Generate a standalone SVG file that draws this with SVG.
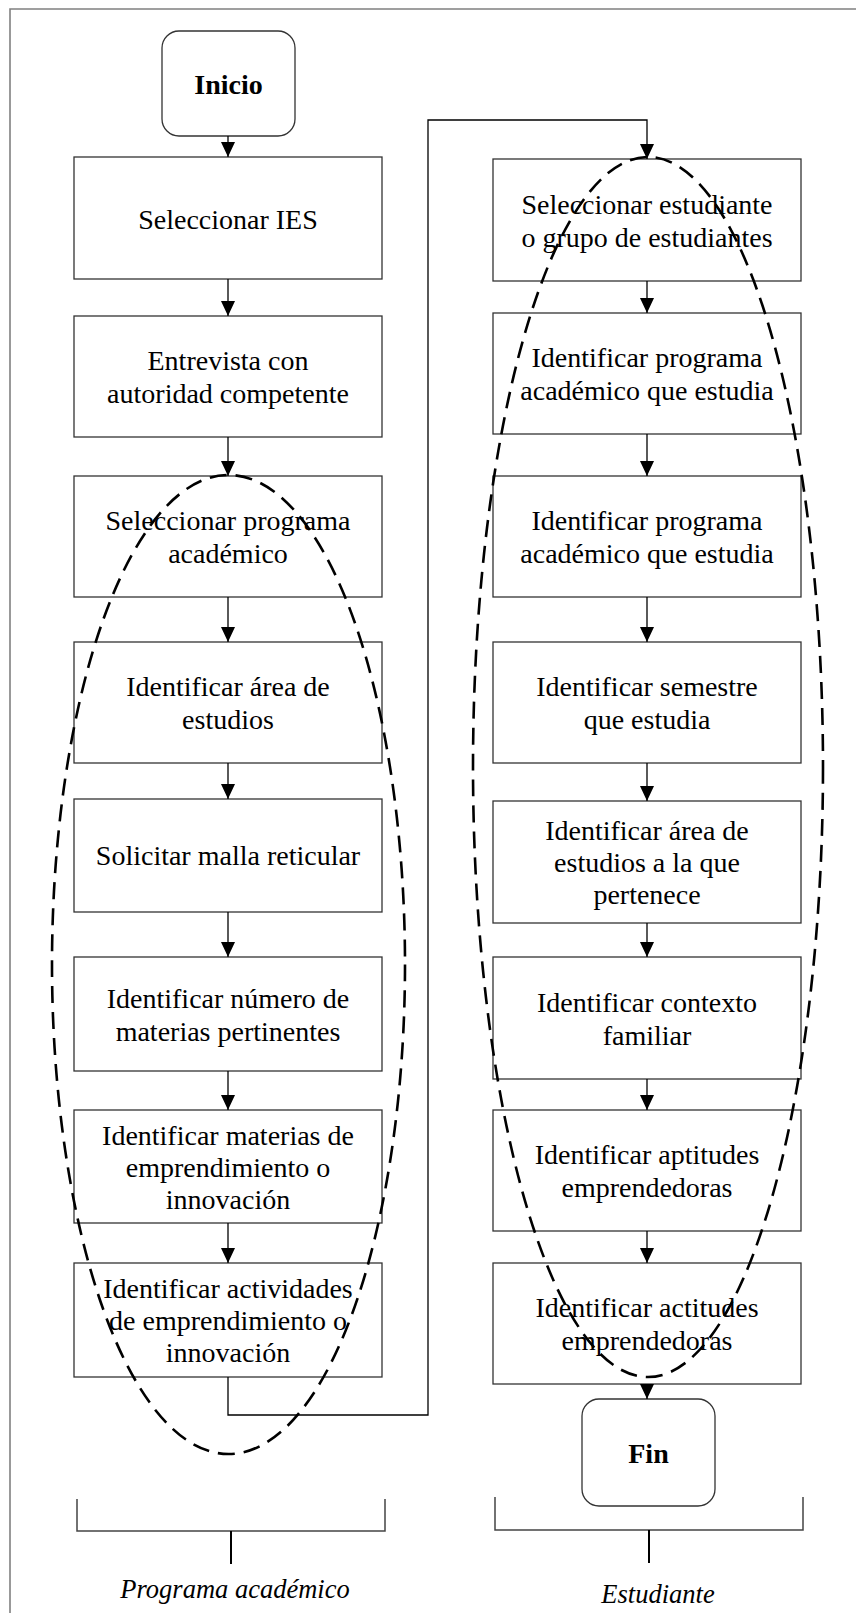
<svg xmlns="http://www.w3.org/2000/svg" width="856" height="1613" viewBox="0 0 856 1613">
<style>
.box{fill:#fff;stroke:#333;stroke-width:1.3}
.term{fill:#fff;stroke:#333;stroke-width:1.3}
.t{font-family:"Liberation Serif","Times New Roman",serif;font-size:28px;fill:#000;text-anchor:middle}
.b{font-weight:bold}
.i{font-style:italic;font-size:26.5px}
.conn{fill:none;stroke:#000;stroke-width:1.3}
.ell{fill:none;stroke:#000;stroke-width:2.6;stroke-dasharray:17 9}
.brk{fill:none;stroke:#444;stroke-width:1.5}
.stem{fill:none;stroke:#000;stroke-width:2}
</style>
<defs>
<marker id="arr" viewBox="0 0 15 14" refX="15" refY="7" markerWidth="15" markerHeight="14" markerUnits="userSpaceOnUse" orient="auto">
<path d="M0,0 L15,7 L0,14 z" fill="#000"/>
</marker>
</defs>
<path d="M10,1613 V9 H856" fill="none" stroke="#808080" stroke-width="1.6"/>

<g id="n-inicio"><rect class="term" x="162" y="31" width="133" height="105" rx="17"/><text class="t b" x="228.5" y="94">Inicio</text></g>
<g id="n-l1"><rect class="box" x="74" y="157" width="308" height="122"/><text class="t" x="228" y="229">Seleccionar IES</text></g>
<g id="n-l2"><rect class="box" x="74" y="316" width="308" height="121"/><text class="t" x="228" y="370">Entrevista con</text><text class="t" x="228" y="403">autoridad competente</text></g>
<g id="n-l3"><rect class="box" x="74" y="476" width="308" height="121"/><text class="t" x="228" y="530">Seleccionar programa</text><text class="t" x="228" y="563">académico</text></g>
<g id="n-l4"><rect class="box" x="74" y="642" width="308" height="121"/><text class="t" x="228" y="696">Identificar área de</text><text class="t" x="228" y="729">estudios</text></g>
<g id="n-l5"><rect class="box" x="74" y="799" width="308" height="113"/><text class="t" x="228" y="865">Solicitar malla reticular</text></g>
<g id="n-l6"><rect class="box" x="74" y="957" width="308" height="114"/><text class="t" x="228" y="1007.5">Identificar número de</text><text class="t" x="228" y="1040.5">materias pertinentes</text></g>
<g id="n-l7"><rect class="box" x="74" y="1110" width="308" height="113"/><text class="t" x="228" y="1145">Identificar materias de</text><text class="t" x="228" y="1177">emprendimiento o</text><text class="t" x="228" y="1208.5">innovación</text></g>
<g id="n-l8"><rect class="box" x="74" y="1263" width="308" height="114"/><text class="t" x="228" y="1298">Identificar actividades</text><text class="t" x="228" y="1330">de emprendimiento o</text><text class="t" x="228" y="1362">innovación</text></g>

<g id="n-r1"><rect class="box" x="493" y="159" width="308" height="122"/><text class="t" x="647" y="213.5">Seleccionar estudiante</text><text class="t" x="647" y="246.5">o grupo de estudiantes</text></g>
<g id="n-r2"><rect class="box" x="493" y="313" width="308" height="121"/><text class="t" x="647" y="367">Identificar programa</text><text class="t" x="647" y="400">académico que estudia</text></g>
<g id="n-r3"><rect class="box" x="493" y="476" width="308" height="121"/><text class="t" x="647" y="530">Identificar programa</text><text class="t" x="647" y="563">académico que estudia</text></g>
<g id="n-r4"><rect class="box" x="493" y="642" width="308" height="121"/><text class="t" x="647" y="696">Identificar semestre</text><text class="t" x="647" y="729">que estudia</text></g>
<g id="n-r5"><rect class="box" x="493" y="801" width="308" height="122"/><text class="t" x="647" y="840">Identificar área de</text><text class="t" x="647" y="872">estudios a la que</text><text class="t" x="647" y="904">pertenece</text></g>
<g id="n-r6"><rect class="box" x="493" y="957" width="308" height="122"/><text class="t" x="647" y="1011.5">Identificar contexto</text><text class="t" x="647" y="1044.5">familiar</text></g>
<g id="n-r7"><rect class="box" x="493" y="1110" width="308" height="121"/><text class="t" x="647" y="1164">Identificar aptitudes</text><text class="t" x="647" y="1197">emprendedoras</text></g>
<g id="n-r8"><rect class="box" x="493" y="1263" width="308" height="121"/><text class="t" x="647" y="1317">Identificar actitudes</text><text class="t" x="647" y="1350">emprendedoras</text></g>
<g id="n-fin"><rect class="term" x="582" y="1399" width="133" height="107" rx="17"/><text class="t b" x="648.5" y="1463">Fin</text></g>

<g id="connectors">
<path class="conn" d="M228,136 V157" marker-end="url(#arr)"/>
<path class="conn" d="M228,279 V316" marker-end="url(#arr)"/>
<path class="conn" d="M228,437 V476" marker-end="url(#arr)"/>
<path class="conn" d="M228,597 V642" marker-end="url(#arr)"/>
<path class="conn" d="M228,763 V799" marker-end="url(#arr)"/>
<path class="conn" d="M228,912 V957" marker-end="url(#arr)"/>
<path class="conn" d="M228,1071 V1110" marker-end="url(#arr)"/>
<path class="conn" d="M228,1223 V1263" marker-end="url(#arr)"/>
<path class="conn" d="M228,1377 V1415 H428 V120 H647 V159" marker-end="url(#arr)"/>
<path class="conn" d="M647,281 V313" marker-end="url(#arr)"/>
<path class="conn" d="M647,434 V476" marker-end="url(#arr)"/>
<path class="conn" d="M647,597 V642" marker-end="url(#arr)"/>
<path class="conn" d="M647,763 V801" marker-end="url(#arr)"/>
<path class="conn" d="M647,923 V957" marker-end="url(#arr)"/>
<path class="conn" d="M647,1079 V1110" marker-end="url(#arr)"/>
<path class="conn" d="M647,1231 V1263" marker-end="url(#arr)"/>
<path class="conn" d="M647,1384 V1399" marker-end="url(#arr)"/>
</g>

<g id="groups">
<ellipse class="ell" cx="228.5" cy="964.5" rx="176.5" ry="489.5"/>
<ellipse class="ell" cx="648" cy="767" rx="175" ry="610"/>
</g>

<g id="bracket-programa">
<path class="brk" d="M77,1499 V1531 H385 V1499"/>
<path class="stem" d="M231,1531 V1564"/>
<text class="t i" x="235" y="1598">Programa académico</text>
</g>
<g id="bracket-estudiante">
<path class="brk" d="M495,1497 V1530 H803 V1497"/>
<path class="stem" d="M649,1530 V1563"/>
<text class="t i" x="658" y="1603">Estudiante</text>
</g>
</svg>
